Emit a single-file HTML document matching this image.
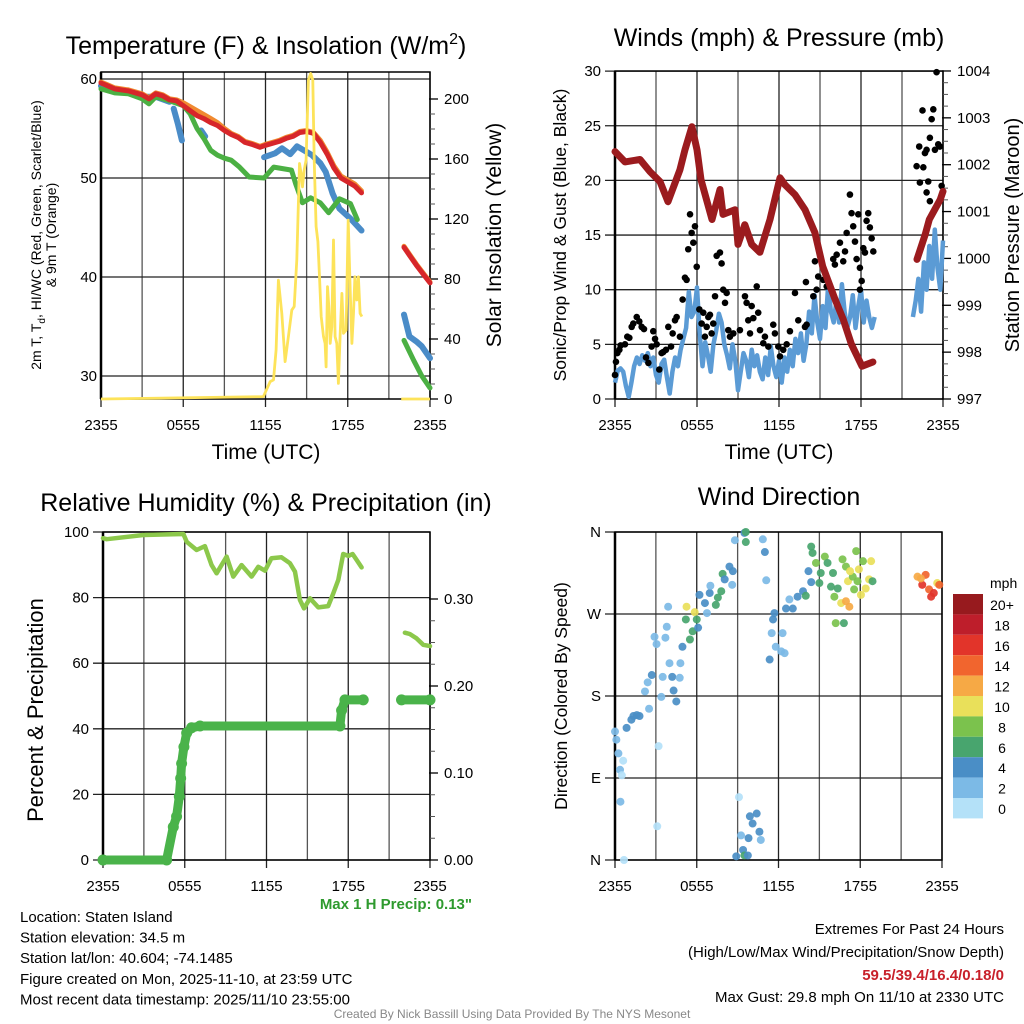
<!DOCTYPE html>
<html><head><meta charset="utf-8"><style>
html,body{margin:0;padding:0;background:#fff}
svg{display:block;font-family:"Liberation Sans",Arial,sans-serif}
</style></head><body>
<svg id="s" width="1024" height="1024" viewBox="0 0 1024 1024" xmlns="http://www.w3.org/2000/svg">
<g id="g"></g>
</svg>
<script>
// ---------- DATA ----------
const redT=[0,0.5,1,2,3,3.5,4,4.5,5,5.5,6,6.5,7,7.5,8,8.5,9,9.5,10,10.5,11,11.6,12,12.5,13,13.5,14,14.5,15,15.5,16,16.5,17,17.5,18,18.5,19,null,22.1,22.5,23,23.5,24];
const redV=[59.6,59.3,59.0,58.8,58.4,58.0,58.5,58.3,57.9,57.8,57.3,56.8,56.3,56.0,55.6,55.3,54.8,54.4,54.1,53.6,53.4,53.1,53.3,53.5,53.7,54.0,54.2,54.6,54.7,54.5,53.6,52.4,51.0,50.0,49.6,49.2,48.5,null,43.0,42.2,41.2,40.3,39.4];
const orangeV=[59.7,59.4,59.1,58.9,58.5,58.1,58.6,58.4,58.0,57.9,57.6,57.2,56.8,56.4,56.0,55.6,55.0,54.5,54.2,53.7,53.5,53.2,53.4,53.6,53.8,54.1,54.3,54.7,54.8,54.6,53.8,52.6,51.2,50.2,49.8,49.4,48.7,null,43.1,42.3,41.3,40.4,39.5];
const greenT=[0,1,2,3,3.5,4,5,6,6.5,7,7.5,8,8.5,9,9.5,10.1,10.8,11.9,12.6,13.9,14.2,14.7,15.3,16,16.6,17.4,18.2,18.7,null,22.1,22.8,23.4,24];
const greenV=[59.0,58.6,58.5,58.0,57.5,58.2,57.8,57.3,56.5,55.0,54.0,52.8,52.3,52.0,51.8,51.1,50.1,50.0,51.1,50.8,49.4,47.5,48.0,47.5,46.5,47.9,47.4,45.8,null,33.6,31.6,30.0,28.8];
const blueT=[0,1,2,3,4,5,null,5.3,5.6,5.9,null,7.3,7.6,null,11.9,12.7,13.2,13.8,14.3,14.8,15.4,16,16.4,16.9,17.4,18.2,19,null,22.1,22.5,23,23.4,24];
const blueV=[59.3,58.9,58.6,58.2,58.2,57.7,null,57.0,55.5,53.8,null,54.8,54.2,null,52.1,52.5,53.0,52.4,53.2,52.8,52.3,51.5,50.6,48.4,46.9,45.9,44.7,null,36.2,34.0,33.5,33.0,31.8];
const solT=[0,11.85,12.34,12.58,12.77,12.94,13.19,13.43,13.67,13.92,14.09,14.28,14.48,14.6,14.7,14.82,14.96,15.13,15.3,15.45,15.55,15.69,15.82,15.94,16.06,16.23,16.35,16.42,16.52,16.62,16.72,16.84,16.96,17.08,17.2,17.32,17.45,17.57,17.69,17.88,18.03,18.18,18.3,18.42,18.52,18.66,18.78,18.9,19.03,null,21.9,24];
const solV=[0,1.6,11.6,12.7,32.7,79.3,57.1,24.9,41.6,59.3,61.6,92.7,157,150.4,141.5,152.7,159.3,212.7,217,212.7,159.3,114.9,104.9,81.5,54.9,41.6,37.1,21.5,74.9,61.6,37.1,48.2,106,41.6,37.1,10.4,43.8,70.4,43.8,46,119.3,72.7,37.1,57.1,81.5,66,81.5,57.1,54.9,null,0,0];
const tempTicks=[60,50,40,30];
const solTicks=[0,40,80,120,160,200];
const timeLabels=["2355","0555","1155","1755","2355"];

const sustStart=0, sustStep=0.2;
const sustV=[1.5,2.6,2.8,2.5,1.2,0.2,1.5,3.0,3.8,3.2,4.0,3.5,4.2,3.0,3.8,2.2,1.5,3.2,3.6,2.0,0.5,2.5,3.8,3.0,4.5,5.5,6.5,9.8,7.5,8.0,10.2,6.0,3.0,5.2,4.0,2.5,5.0,6.2,7.8,7.0,5.0,4.0,2.8,5.0,3.5,0.8,2.5,4.2,3.5,2.0,4.5,3.0,4.0,2.5,1.8,3.8,2.2,4.8,3.0,2.0,3.5,1.5,3.8,2.5,4.5,3.0,5.5,4.2,6.0,3.5,5.0,8.0,6.0,9.5,7.0,5.5,8.5,6.5,10.5,8.0,7.0,9.0,7.0,10.5,8.0,6.5,7.5,9.5,6.5,8.5,10.0,7.0,9.0,7.5,6.5,7.5];
const sust2Start=21.8;
const sust2V=[7.5,9.0,11.0,8.0,12.5,10.0,14.0,11.0,15.5,12.0,10.0,14.5];
const gustT=[0,0.07,0.17,0.32,0.41,0.73,0.9,1.05,1.22,1.34,1.59,1.78,1.95,2.12,2.27,2.44,2.68,2.8,2.93,3.05,3.24,3.41,3.53,3.73,3.9,4.1,4.22,4.39,4.51,4.75,4.95,5.12,5.24,5.36,5.49,5.61,5.73,5.85,5.98,6.17,6.34,6.46,6.71,6.83,7.07,7.32,7.44,7.68,7.8,7.92,8.17,8.29,8.41,8.05,8.66,9.14,9.51,9.63,10.0,10.37,10.48,10.12,9.75,9.88,10.61,10.85,10.97,11.22,11.58,11.7,11.95,12.07,12.31,12.56,12.8,13.17,13.41,13.9,14.02,14.51,13.97,14.75,14.63,14.87,15.24,15.49,15.97,16.09,16.22,16.46,16.7,16.83,16.95,17.19,17.31,17.43,17.56,17.68,17.8,17.92,18.05,17.92,18.17,18.41,18.53,18.65,18.78,18.9,18.29,6.95,6.58,7.19,22.07,22.31,22.56,22.68,22.8,22.92,22.8,23.04,22.26,22.5,23.17,23.29,23.41,23.65,23.77,23.9,23.53,23.04];
const gustV=[2.2,3.4,4.2,4.5,4.9,5.0,5.7,5.6,6.6,6.9,7.5,7.1,6.6,6.4,3.8,3.3,4.8,6.2,5.5,5.0,2.7,4.2,4.3,4.5,6.6,4.8,6.0,7.2,7.5,5.7,9.1,11.1,10.9,13.7,16.9,15.2,14.3,15.8,12.1,8.2,6.9,7.9,6.6,7.5,6.0,9.4,13.1,13.4,12.4,10.0,9.7,6.3,5.7,8.8,6.0,6.3,9.4,8.8,8.5,10.3,7.9,7.4,7.2,6.0,6.3,5.1,5.7,4.8,6.8,6.0,4.8,3.9,4.5,5.0,6.2,9.7,7.2,6.6,6.8,9.4,10.7,10.0,12.6,11.2,10.9,10.3,12.8,12.3,13.2,14.3,12.6,13.5,15.2,18.7,17.0,15.8,14.4,12.8,16.9,12.0,10.8,10.0,13.8,16.3,17.0,15.7,14.7,13.5,13.4,7.7,5.7,6.9,21.3,19.8,21.2,22.5,22.8,19.9,18.9,18.1,23.1,26.4,25.6,26.5,22.8,23.3,23.1,19.5,29.9,23.9];
const presT=[0,0.73,1.83,2.56,3.29,3.88,4.75,5.12,5.63,6.0,6.29,7.1,7.68,7.9,8.78,9.0,9.5,10.0,10.6,11.34,12.07,12.44,13.17,13.9,14.63,15.2,16.1,16.7,17.3,18.07,18.87,null,22.1,22.7,23.0,23.8,24.0];
const presV=[1002.28,1002.06,1002.11,1001.85,1001.64,1001.21,1001.89,1002.32,1002.81,1002.32,1001.68,1000.83,1001.47,1000.94,1001.04,1000.30,1000.72,1000.30,1000.13,1000.83,1001.72,1001.57,1001.36,1001.04,1000.55,999.83,999.13,998.70,998.17,997.70,997.79,null,999.98,1000.51,1000.83,1001.26,1001.43];
const windTicks=[0,5,10,15,20,25,30];
const presTicks=[997,998,999,1000,1001,1002,1003,1004];

const rhT=[0,0.27,2.96,5.9,6.14,6.87,7.48,7.97,8.34,9.07,9.56,10.17,10.91,11.4,11.89,12.37,13.1,13.72,14.09,14.45,14.75,15.19,15.8,16.53,16.9,17.27,17.63,18.0,18.32,18.61,18.98,null,22.16,22.52,23.0,23.5,24];
const rhV=[98.1,97.8,99.1,99.4,97.0,94.5,95.7,89.9,87.4,92.5,86.4,89.9,86.4,89.4,88.2,92.0,92.3,90.5,87.9,79.3,76.7,79.8,77.0,77.4,81.3,85.4,93.3,92.7,93.3,91.5,89.2,null,69.3,68.9,67.6,65.6,65.2];
const prT=[0,4.67,5.16,5.4,5.6,5.7,5.77,5.94,6.14,6.5,7.12,17.39,17.51,17.76,19.1,null,21.91,24];
const prV=[0,0,0.038,0.05,0.073,0.094,0.111,0.130,0.146,0.152,0.154,0.154,0.172,0.184,0.184,null,0.184,0.184];
const rhTicks=[0,20,40,60,80,100];
const prTicks=[0,0.1,0.2,0.3];

const dirT=[0,0.1,0.25,0.6,0.37,0.5,0.4,0.66,0.85,1.2,1.6,1.8,1.35,2.5,2.2,2.7,2.4,2.9,3.05,3.2,3.1,3.4,3.5,3.7,3.8,3.9,4.0,4.2,4.3,4.5,4.75,4.8,4.95,5.2,5.25,5.5,5.7,5.85,6.0,6.1,6.2,6.6,6.75,6.95,7.4,7.55,7.8,7.0,7.9,8.05,8.4,8.65,8.6,8.8,9.5,9.6,9.6,10.85,11.0,11.1,9.1,9.25,9.9,10.1,10.4,10.6,9.8,10.7,8.9,9.4,9.5,9.75,11.35,11.5,11.6,11.7,11.8,12.2,12.45,12.3,12.55,12.8,13.05,13.4,13.8,14.0,14.2,14.4,14.4,14.5,14.75,15.0,15.1,15.4,15.6,15.85,16.0,16.1,16.2,16.35,16.6,16.7,16.95,16.95,17.2,17.1,17.45,17.55,17.7,17.8,17.9,18.05,18.2,18.4,18.65,18.8,18.9,17.25,16.8,22.2,22.55,22.8,23.05,23.2,23.4,23.65,23.8,22.45];
const dirV=[141,132,117,109,99,93,64,0,145,154,159,158,158,166,185,203,195,245,237,125,37,179,201,244,256,278,216,201,186,174,200,216,234,264,278,242,251,272,264,255,291,282,271,293,280,288,295,301,314,308,322,317,302,351,359,360,349,352,338,307,69,27,48,40,51,31,24,22,4,11,5,5,220,249,264,271,234,229,227,249,276,286,276,289,295,290,317,305,344,337,326,304,315,333,326,300,315,289,260,298,282,330,322,284,278,306,311,297,339,306,319,291,328,298,308,328,306,317,260,311,302,313,297,289,293,304,302,309];
const dirSpd=[2,2,2,1,2,1,2,1,4,4,4,4,4,2,2,4,2,2,2,1,1,2,2,2,2,2,2,4,4,4,2,2,4,6,10,6,6,10,6,4,4,4,2,4,6,6,6,2,6,4,4,4,2,2,4,6,6,2,4,2,1,2,4,4,4,4,4,2,4,4,6,4,4,2,4,4,2,2,2,2,4,2,4,4,4,6,4,4,6,6,8,6,6,8,6,6,6,8,8,6,10,8,8,12,12,10,8,8,8,8,10,10,8,10,10,10,6,10,6,12,16,14,14,16,16,10,14,12];
const dirLabels=["N","E","S","W","N"];
const cbLabels=["20+","18","16","14","12","10","8","6","4","2","0"];
const cbColors=["#971a1e","#be1e2b","#e2342a","#f1652e","#f6a945","#e9e05a","#7bc24d","#48a56e","#4a8ec6","#7cbae6","#b4e1f8"];

// ---------- HELPERS ----------
const NS="http://www.w3.org/2000/svg";
const G=document.getElementById('g');
function el(tag,attrs,parent,text){const e=document.createElementNS(NS,tag);for(const k in attrs)e.setAttribute(k,attrs[k]);if(text!==undefined)e.textContent=text;(parent||G).appendChild(e);return e;}
function grp(name){const g=el('g',{});


return g;}
function linePath(T,V,fx,fy){let d='',pen=false;for(let i=0;i<T.length;i++){if(T[i]===null||V[i]===null){pen=false;continue;}d+=(pen?'L':'M')+fx(T[i]).toFixed(1)+','+fy(V[i]).toFixed(1);pen=true;}return d;}
function spdColor(s){const idx=Math.min(10,Math.floor(s/2));return cbColors[10-idx];}

function frame(name,x0,x1,y0,y1,hVals,fy,leftLabels,leftExt,rightTicks,fyR,rightLabels){
  const g=grp(name+'-axes');
  for(let h=0;h<=24;h+=3){const x=x0+(x1-x0)*h/24;const ln=el('line',{x1:x,x2:x,y1:y0-(h%6===0?0:0),y2:y1+(h%6===0?8:0),stroke:(h%6===0?'#222':'#555'),'stroke-width':1.3},g);
  
  }
  hVals.forEach((v,i)=>{const y=fy(v);const ln=el('line',{x1:x0-leftExt,x2:x1,y1:y,y2:y,stroke:'#222','stroke-width':1.3},g);
  
  
  const t=el('text',{x:x0-leftExt-4,y:y+5,'text-anchor':'end','font-size':15},g,leftLabels[i]);
  
  });
  el('rect',{x:x0,y:y0,width:x1-x0,height:y1-y0,fill:'none',stroke:'#000','stroke-width':1.5},g);
  el('line',{x1:x0,x2:x0,y1:y0,y2:y1,stroke:'#000','stroke-width':2.5},g);
  timeLabels.forEach((l,i)=>{const x=x0+(x1-x0)*i/4;const t=el('text',{x:x,y:y1+31,'text-anchor':'middle','font-size':15},g,l);
  
  });
  if(rightTicks){rightTicks.forEach((v,i)=>{const y=fyR(v);el('line',{x1:x1-1,x2:x1+8,y1:y,y2:y,stroke:'#000','stroke-width':1.3},g);
    const t=el('text',{x:x1+14,y:y+5,'font-size':15},g,rightLabels[i]);
    
    
    if(i<rightTicks.length-1){const y2=fyR(rightTicks[i+1]);for(let k=1;k<4;k++){const ym=y+(y2-y)*k/4;el('line',{x1:x1,x2:x1+5,y1:ym,y2:ym,stroke:'#555','stroke-width':1},g);}}});}
}
function title(x,y,txt,name,size){const t=el('text',{x:x,y:y,'text-anchor':'middle','font-size':size||25},G,txt);

return t;}
function vlabel(x,y,txt,name,size){const t=el('text',{x:x,y:y,'text-anchor':'middle','font-size':size,transform:'rotate(-90 '+x+' '+y+')'},G,txt);

return t;}

// ---------- PANEL 1 ----------
{const x0=101,x1=430,y0=72,y1=399;
const fx=t=>x0+(x1-x0)*t/24, fy=v=>79+(60-v)*9.9, fyR=v=>399-v*1.5;
frame('temperature',x0,x1,y0,y1,tempTicks,fy,tempTicks.map(String),0,solTicks,fyR,solTicks.map(String));
const g=grp('temperature-series');
let p;
p=el('path',{d:linePath(blueT,blueV,fx,fy),fill:'none',stroke:'#4a8cc8','stroke-width':6,'stroke-linejoin':'round','stroke-linecap':'round'},g);


p=el('path',{d:linePath(greenT,greenV,fx,fy),fill:'none',stroke:'#4bb043','stroke-width':5,'stroke-linejoin':'round','stroke-linecap':'round'},g);


p=el('path',{d:linePath(redT,orangeV,fx,fy),fill:'none',stroke:'#f08a30','stroke-width':5,'stroke-linejoin':'round','stroke-linecap':'round'},g);


p=el('path',{d:linePath(redT,redV,fx,fy),fill:'none',stroke:'#d7262a','stroke-width':5,'stroke-linejoin':'round','stroke-linecap':'round'},g);


p=el('path',{d:linePath(solT,solV,fx,fyR),fill:'none',stroke:'#fde35a','stroke-width':2.8,'stroke-linejoin':'round'},g);


}
{const t=el('text',{x:266,y:54,'text-anchor':'middle','font-size':25},G);


t.textContent='Temperature (F) & Insolation (W/m';
el('tspan',{dy:-10,'font-size':16},t,'2');el('tspan',{dy:10},t,')');}
{const t=el('text',{x:0,y:0,'text-anchor':'middle','font-size':14,transform:'translate(41 235) rotate(-90)'},G);


t.textContent='2m T, T';el('tspan',{dy:4,'font-size':10},t,'d');el('tspan',{dy:-4},t,', HI/WC (Red, Green, Scarlet/Blue)');}
vlabel(56,235,'& 9m T (Orange)','temperature-y-axis-title-2',14);
vlabel(501,235,'Solar Insolation (Yellow)','insolation-y-axis-title',21);
title(266,459,'Time (UTC)','temperature-x-axis-title',21);

// ---------- PANEL 2 ----------
{const x0=615,x1=943,y0=71,y1=399;
const fx=t=>x0+(x1-x0)*t/24, fy=v=>399-v*10.93, fyR=v=>399-(v-997)*46.86;
frame('winds',x0,x1,y0,y1,windTicks,fy,windTicks.map(String),10,presTicks,fyR,presTicks.map(String));
const g=grp('winds-series');
const sT=sustV.map((v,i)=>sustStart+i*sustStep);
const s2T=sust2V.map((v,i)=>sust2Start+i*sustStep);
let p=el('path',{d:linePath(sT,sustV,fx,fy)+linePath(s2T,sust2V,fx,fy),fill:'none',stroke:'#5b9bd5','stroke-width':4.5,'stroke-linejoin':'round'},g);


gustT.forEach((t,i)=>{const c=el('circle',{cx:fx(t),cy:fy(gustV[i]),r:3.3,fill:'#000'},g);

});
p=el('path',{d:linePath(presT,presV,fx,fyR),fill:'none',stroke:'#9b1b1e','stroke-width':7,'stroke-linejoin':'round','stroke-linecap':'round'},g);


}
title(779,46,'Winds (mph) & Pressure (mb)','winds-title');
vlabel(566,235,'Sonic/Prop Wind & Gust (Blue, Black)','wind-y-axis-title',17.5);
vlabel(1019,235,'Station Pressure (Maroon)','pressure-y-axis-title',20);
title(779,459,'Time (UTC)','winds-x-axis-title',21);

// ---------- PANEL 3 ----------
{const x0=103,x1=430,y0=532,y1=860;
const fx=t=>x0+(x1-x0)*t/24, fy=v=>860-v*3.28, fyR=v=>860-v*870;
frame('humidity',x0,x1,y0,y1,rhTicks,fy,rhTicks.map(String),10,prTicks,fyR,prTicks.map(v=>v.toFixed(2)));
const g=grp('humidity-series');
let p=el('path',{d:linePath(rhT,rhV,fx,fy),fill:'none',stroke:'#8cc84b','stroke-width':4.5,'stroke-linejoin':'round','stroke-linecap':'round'},g);


p=el('path',{d:linePath(prT,prV,fx,fyR),fill:'none',stroke:'#4ab34a','stroke-width':9,'stroke-linejoin':'round','stroke-linecap':'round'},g);


prT.forEach((t,i)=>{if(t===null)return;const c=el('circle',{cx:fx(t),cy:fyR(prV[i]),r:5.5,fill:'#4ab34a'},g);

});
}
title(266,511,'Relative Humidity (%) & Precipitation (in)','humidity-title');
vlabel(43,710,'Percent & Precipitation','humidity-y-axis-title',22);
{const t=el('text',{x:472,y:909,'text-anchor':'end','font-size':15,'font-weight':'bold',fill:'#2e9a2e'},G,'Max 1 H Precip: 0.13"');

}

// ---------- PANEL 4 ----------
{const x0=615,x1=942,y0=532,y1=860;
const fx=t=>x0+(x1-x0)*t/24, fy=d=>860-d/360*328;
const dv=[0,90,180,270,360];
frame('wind-direction',x0,x1,y0,y1,dv,fy,dirLabels,10,null);
const g=grp('wind-direction-series');
dirT.forEach((t,i)=>{const c=el('circle',{cx:fx(t),cy:fy(dirV[i]),r:4,fill:spdColor(dirSpd[i]),'fill-opacity':0.92},g);

});
const cb=grp('speed-colorbar');
el('text',{x:990,y:588,'font-size':14},cb,'mph');
cbColors.forEach((c,i)=>{const y=594+i*20.4;const r=el('rect',{x:953,y:y,width:30,height:20.4,fill:c},cb);


const t=el('text',{x:1002,y:y+16,'text-anchor':'middle','font-size':14},cb,cbLabels[i]);

});
}
title(779,505,'Wind Direction','wind-direction-title');
vlabel(567,696,'Direction (Colored By Speed)','direction-y-axis-title',17.5);

// ---------- FOOTER ----------
const info=["Location: Staten Island","Station elevation: 34.5 m","Station lat/lon: 40.604; -74.1485","Figure created on Mon, 2025-11-10, at 23:59 UTC","Most recent data timestamp: 2025/11/10 23:55:00"];
info.forEach((s,i)=>{const t=el('text',{x:20,y:922+i*20.6,'font-size':15},G,s);

});
[["Extremes For Past 24 Hours",934,'#000','normal'],["(High/Low/Max Wind/Precipitation/Snow Depth)",957,'#000','normal'],["59.5/39.4/16.4/0.18/0",980,'#c8202a','bold'],["Max Gust: 29.8 mph On 11/10 at 2330 UTC",1002,'#000','normal']].forEach(a=>{
const t=el('text',{x:1004,y:a[1],'text-anchor':'end','font-size':15,fill:a[2],'font-weight':a[3]},G,a[0]);

});
{const t=el('text',{x:512,y:1018,'text-anchor':'middle','font-size':12,fill:'#888'},G,'Created By Nick Bassill Using Data Provided By The NYS Mesonet');

}
</script>
</body></html>
